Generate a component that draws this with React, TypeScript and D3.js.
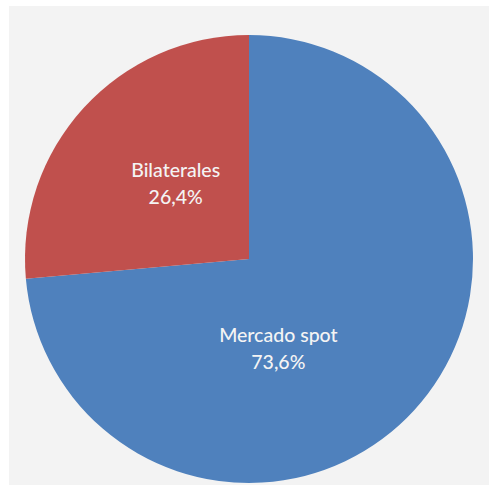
import React from "react";
import * as d3 from "d3";

const categories = ["Mercado spot", "Bilaterales"];
const values = [73.6, 26.4];
const valueLabels = ["73,6%", "26,4%"];
const colors = ["#4f81bd", "#c0504d"];
// label nudges relative to arc centroid (layout only)
const labelNudge: [number, number][] = [[-45, 19], [1, -10]];

export default function App() {
  const W = 489, H = 485;
  const cx = 249, cy = 259, R = 224;
  const data = categories.map((c, i) => ({ c, v: values[i], l: valueLabels[i], i }));
  const pie = d3.pie<any>().value((d) => d.v).sort(null);
  const arcs = pie(data);
  const arc = d3.arc<any>().innerRadius(0).outerRadius(R);
  const labelArc = d3.arc<any>().innerRadius(0).outerRadius(R * 0.9);
  return (
    <svg width={W} height={H} style={{ position: "absolute", left: 0, top: 0, background: "#fff" }}>
      <rect x={9} y={6} width={W - 9} height={H - 6} fill="#f3f3f3" />
      <g transform={`translate(${cx},${cy})`}>
        {arcs.map((a, i) => (
          <path key={i} d={arc(a) as string} fill={colors[i]} />
        ))}
        {arcs.map((a, i) => {
          const [x, y] = labelArc.centroid(a);
          const nx = x + labelNudge[i][0], ny = y + labelNudge[i][1];
          return (
            <text key={i} x={nx} y={ny} textAnchor="middle" fill="#f4f4f4"
              style={{ fontFamily: "Lato, 'Open Sans', sans-serif", fontSize: 19.5, fontWeight: 500 }}>
              <tspan x={nx} dy={-4}>{a.data.c}</tspan>
              <tspan x={nx} dy={27}>{a.data.l}</tspan>
            </text>
          );
        })}
      </g>
    </svg>
  );
}
